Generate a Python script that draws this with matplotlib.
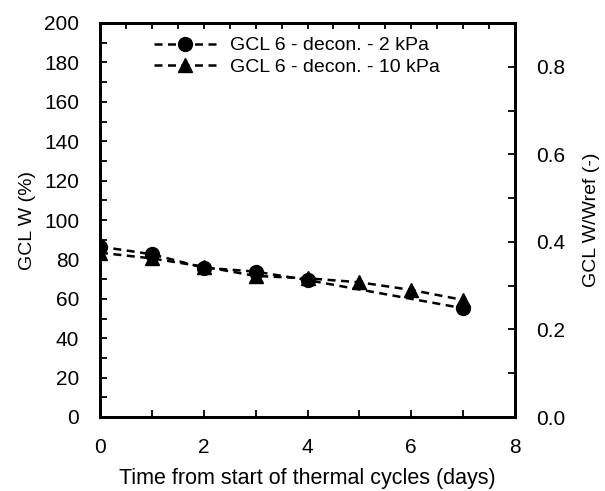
import matplotlib.pyplot as plt
from matplotlib.ticker import MultipleLocator

plt.rcParams['font.family'] = ['Liberation Sans', 'DejaVu Sans']

days_2kpa = [0, 1, 2, 3, 4, 7]
w_2kpa = [86.5, 82.6, 75.8, 73.8, 69.5, 55.2]

days_10kpa = [0, 1, 2, 3, 4, 5, 6, 7]
w_10kpa = [83.4, 80.5, 76.3, 71.6, 70.4, 68.4, 64.5, 59.4]

fig = plt.figure(figsize=(6.05, 4.91), dpi=100)
ax = fig.add_axes([100 / 605, 1 - 417 / 491, 415 / 605, 394 / 491])

ax.plot(days_2kpa, w_2kpa, color='black', linestyle=(0, (3.2, 2.2)), linewidth=1.8,
        marker='o', markersize=10, label='GCL 6 - decon. - 2 kPa')
ax.plot(days_10kpa, w_10kpa, color='black', linestyle=(0, (3.2, 2.2)), linewidth=1.8,
        marker='^', markersize=10, label='GCL 6 - decon. - 10 kPa')

ax.set_xlim(0, 8)
ax.set_ylim(0, 200)
ax.xaxis.set_major_locator(MultipleLocator(2))
ax.xaxis.set_minor_locator(MultipleLocator(1))
ax.yaxis.set_major_locator(MultipleLocator(20))
ax.yaxis.set_minor_locator(MultipleLocator(10))
ax.tick_params(axis='both', which='both', direction='in', labelsize=15, width=1.3, length=5)
ax.tick_params(axis='x', which='major', pad=15)
ax.tick_params(axis='y', which='major', pad=15)
for s in ax.spines.values():
    s.set_linewidth(2)

ax.set_xlabel('Time from start of thermal cycles (days)', fontsize=15.5, labelpad=8)
ax.set_ylabel('GCL W (%)', fontsize=14, labelpad=6)

# top ticks every half day, no labels
top = ax.secondary_xaxis('top')
top.xaxis.set_major_locator(MultipleLocator(0.5))
top.tick_params(direction='in', length=4, width=1.3, labeltop=False)
top.spines['top'].set_linewidth(2)

right = ax.twinx()
right.set_ylim(0, 0.9)
right.yaxis.set_major_locator(MultipleLocator(0.2))
right.yaxis.set_minor_locator(MultipleLocator(0.1))
right.yaxis.set_major_formatter(plt.FormatStrFormatter('%.1f'))
right.tick_params(axis='y', which='both', direction='in', length=5, width=1.3,
                  labelsize=15, pad=15)
right.set_ylabel('GCL W/Wref (-)', fontsize=14, labelpad=13)
for s in right.spines.values():
    s.set_linewidth(2)

ax.legend(loc='upper left', bbox_to_anchor=(0.13, 0.965), frameon=False,
          borderpad=0, borderaxespad=0,
          fontsize=14, handlelength=3.2, labelspacing=0.2, handletextpad=0.7)

fig.savefig('out.png', dpi=100)
